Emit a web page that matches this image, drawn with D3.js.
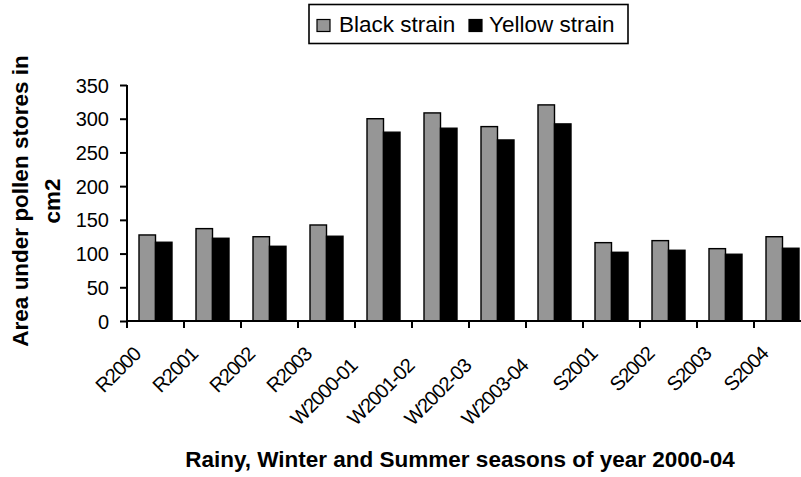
<!DOCTYPE html>
<html>
<head>
<meta charset="utf-8">
<script src="https://cdn.jsdelivr.net/npm/d3@7"></script>
<style>
  html, body { margin: 0; padding: 0; background: #fff; }
  svg { display: block; font-family: "Liberation Sans", Arial, sans-serif; }
</style>
</head>
<body>
<svg id="chart" width="801" height="477"></svg>
<script>
const categories = ["R2000","R2001","R2002","R2003","W2000-01","W2001-02","W2002-03","W2003-04","S2001","S2002","S2003","S2004"];
const seriesNames = ["Black strain","Yellow strain"];
const blackStrain = [127.6, 137, 125, 142.4, 300, 308.6, 288.3, 320.5, 116.2, 119.2, 107.3, 125];
const yellowStrain = [116.8, 122.7, 110.8, 125.7, 280, 285.9, 268.5, 292.3, 101.9, 104.9, 99, 107.9];
const yTicks = [0, 50, 100, 150, 200, 250, 300, 350];
const seriesColors = ["#969696", "#000000"];

const svg = d3.select("#chart");
const plotLeft = 127, plotRight = 811, plotTop = 85, plotBottom = 321;

const x = d3.scaleBand().domain(categories).range([plotLeft, plotRight]).paddingInner(0).paddingOuter(0);
const bw = x.bandwidth();
const groupW = bw * 33 / 57;
const x1 = d3.scaleBand().domain(seriesNames).range([(bw - groupW) / 2, (bw + groupW) / 2]).padding(0);
const y = d3.scaleLinear().domain([0, 350]).range([plotBottom, plotTop]);

const rows = categories.map((c, i) => ({cat: c, values: [blackStrain[i], yellowStrain[i]]}));

// bars
const groups = svg.append("g").selectAll("g").data(rows).join("g")
  .attr("transform", d => `translate(${x(d.cat)},0)`);
groups.selectAll("rect").data(d => d.values.map((v, j) => ({s: seriesNames[j], v, j})))
  .join("rect")
  .attr("x", d => x1(d.s))
  .attr("width", x1.bandwidth())
  .attr("y", d => y(d.v))
  .attr("height", d => y(0) - y(d.v))
  .attr("fill", d => seriesColors[d.j])
  .attr("stroke", "#000")
  .attr("stroke-width", 1.4);

// y axis
const yAxis = d3.axisLeft(y).tickValues(yTicks).tickSize(7).tickPadding(11).tickFormat(d3.format("d"));
const yg = svg.append("g").attr("transform", `translate(${plotLeft},0)`).call(yAxis);
yg.select(".domain").attr("stroke", "#000").attr("stroke-width", 2).attr("d", `M0,${plotTop}V${plotBottom}`);
yg.selectAll(".tick line").attr("stroke", "#000").attr("stroke-width", 2);
yg.selectAll(".tick text").attr("font-size", 20).attr("fill", "#000")
  .attr("font-family", "'Liberation Sans', Arial, sans-serif").attr("dy", "0.35em");

// x axis line
svg.append("line").attr("x1", plotLeft - 1).attr("x2", plotRight).attr("y1", plotBottom).attr("y2", plotBottom)
  .attr("stroke", "#000").attr("stroke-width", 2);
// x ticks at band boundaries
svg.append("g").selectAll("line").data(categories).join("line")
  .attr("x1", d => x(d)).attr("x2", d => x(d))
  .attr("y1", plotBottom).attr("y2", plotBottom + 7)
  .attr("stroke", "#000").attr("stroke-width", 2);

// x tick labels, rotated -45
const lbl = svg.append("g").selectAll("text").data(categories).join("text")
  .text(d => d)
  .attr("font-size", 20)
  .attr("fill", "#000")
  .attr("text-anchor", "end")
  .style("letter-spacing", "-1px");
lbl.each(function(d) {
  const w = this.getComputedTextLength();
  const shift = 0.38 * (w - 55);
  const cx = x(d) + bw / 2 - 14 - shift;
  const cy = 356 + shift;
  d3.select(this).attr("transform", `translate(${cx},${cy}) rotate(-45)`);
});

// x axis title
svg.append("text").attr("x", 460).attr("y", 467).attr("text-anchor", "middle")
  .attr("font-size", 22.5).attr("font-weight", "bold").attr("fill", "#000")
  .text("Rainy, Winter and Summer seasons of year 2000-04");

// y axis title (two lines)
const yt = svg.append("text").attr("transform", "translate(28,201) rotate(-90)")
  .attr("text-anchor", "middle").attr("font-size", 22.5).attr("font-weight", "bold").attr("fill", "#000");
yt.append("tspan").attr("x", 0).attr("y", 0).text("Area under pollen stores in");
yt.append("tspan").attr("x", 0).attr("y", 32).text("cm2");

// legend
const lg = svg.append("g");
lg.append("rect").attr("x", 309).attr("y", 4.5).attr("width", 319).attr("height", 39)
  .attr("fill", "#fff").attr("stroke", "#000").attr("stroke-width", 1.6);
const legendX = [317, 469];
const legendTextX = [339, 489];
seriesNames.forEach((s, i) => {
  lg.append("rect").attr("x", legendX[i]).attr("y", 19.5).attr("width", 13).attr("height", 12)
    .attr("fill", seriesColors[i]).attr("stroke", "#000").attr("stroke-width", 1.2);
  lg.append("text").attr("x", legendTextX[i]).attr("y", 32).attr("font-size", 22.5).attr("fill", "#000").text(s);
});
</script>
</body>
</html>
